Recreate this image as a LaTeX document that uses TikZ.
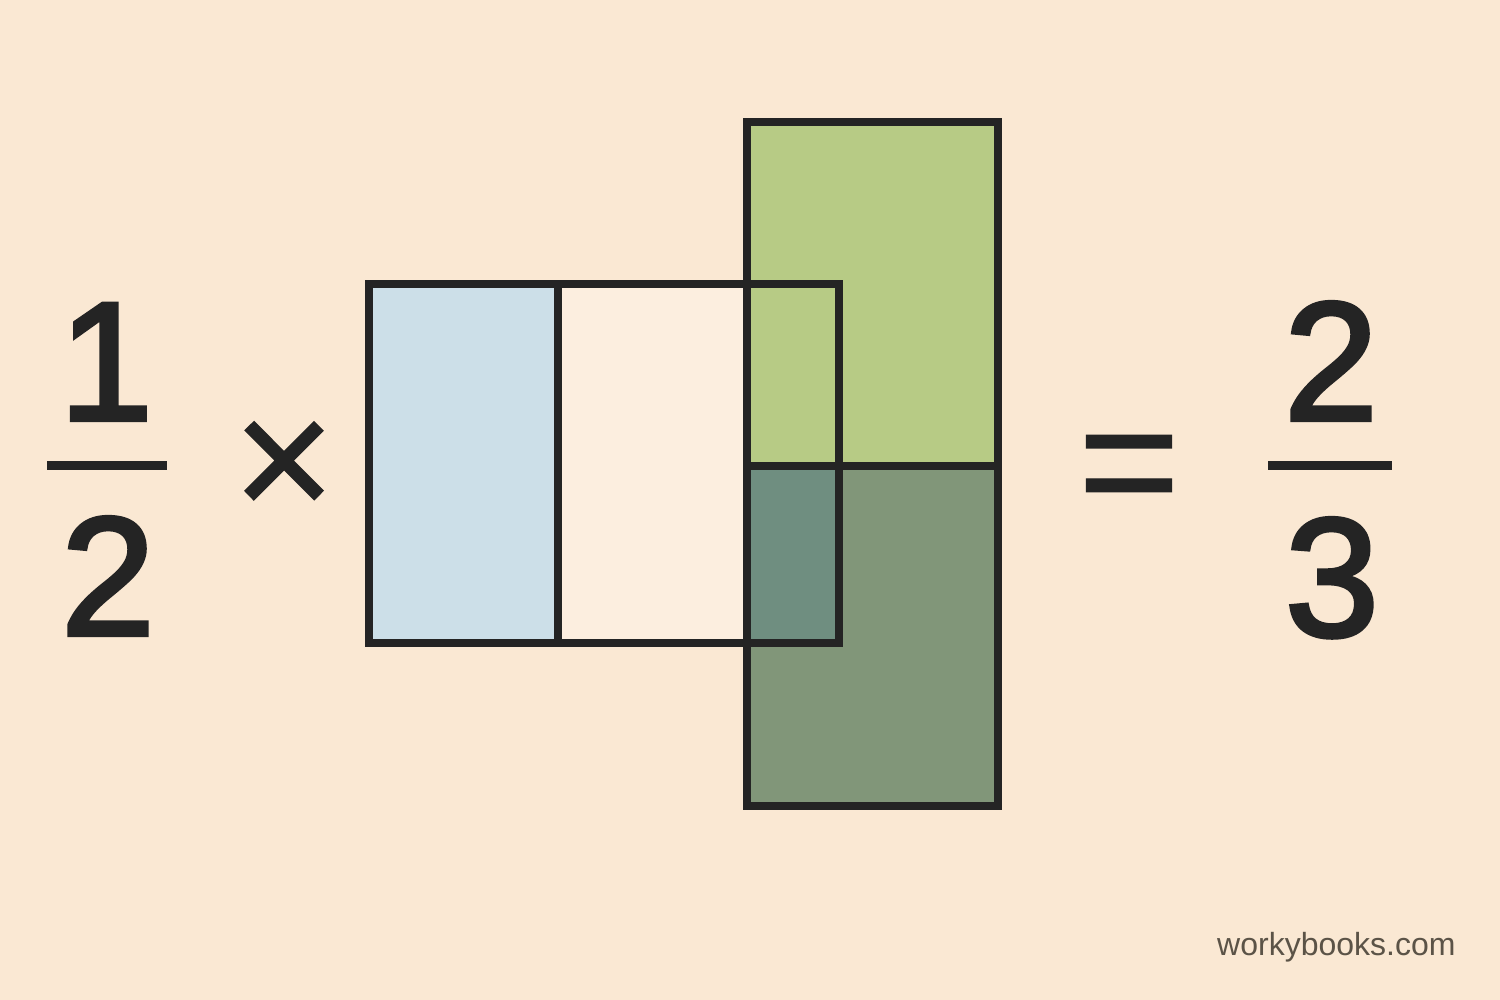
\documentclass[tikz,border=0pt]{standalone}
\usepackage{fontspec}
\setmainfont{Liberation Sans}
\newfontfamily\bigfont[FakeBold=2.5]{Liberation Sans}
\newfontfamily\opfont[FakeBold=0.8]{Liberation Sans}
\definecolor{bgc}{HTML}{FAE8D3}
\definecolor{bluec}{HTML}{CCDFE8}
\definecolor{creamc}{HTML}{FCEEDF}
\definecolor{greenT}{HTML}{B7CB85}
\definecolor{greenB}{HTML}{819679}
\definecolor{tealc}{HTML}{6F8E80}
\definecolor{inkc}{HTML}{242424}
\definecolor{markc}{HTML}{5B5347}
\tikzset{
  edge/.style={draw=inkc, line width=8pt, line join=miter},
  big/.style={inner sep=0pt, anchor=base, text=inkc, font=\bigfont\fontsize{169}{169}\selectfont},
  op/.style={inner sep=0pt, anchor=base, text=inkc, font=\opfont\fontsize{175}{175}\selectfont},
  wm/.style={inner sep=0pt, anchor=base west, text=markc, font=\fontsize{32}{32}\selectfont}
}
\begin{document}
\begin{tikzpicture}[x=1pt,y=-1pt]
\fill[bgc] (0,0) rectangle (1500,1000);
\useasboundingbox (0,0) rectangle (1500,1000);
% green tall rectangle
\fill[greenT] (747,122) rectangle (998,465.5);
\fill[greenB] (747,465.5) rectangle (998,806);
% left rectangle cells
\fill[bluec] (369,284) rectangle (557.5,643);
\fill[creamc] (557.5,284) rectangle (747,643);
\fill[tealc] (747,465.5) rectangle (839,643);
% outlines
\draw[edge] (369,284) rectangle (839,643);
\draw[edge] (557.5,284) -- (557.5,643);
\draw[edge] (747,122) rectangle (998,806);
\draw[edge] (747,465.5) -- (998,465.5);
% left fraction
\node[big] (n1) at (106,420) {1};
\node[big] (d1) at (108,635) {2};
\fill[inkc] (47,461) rectangle (167,470);
\node[op] (times) at (284,519) {×};
\node[op] (eq) at (1129,521) {=};
% right fraction
\node[big] (n2) at (1331,420) {2};
\node[big] (d2) at (1332,636) {3};
\fill[inkc] (1268,461) rectangle (1392,470);
\node[wm] (mark) at (1217,955) {workybooks.com};
\end{tikzpicture}
\end{document}
